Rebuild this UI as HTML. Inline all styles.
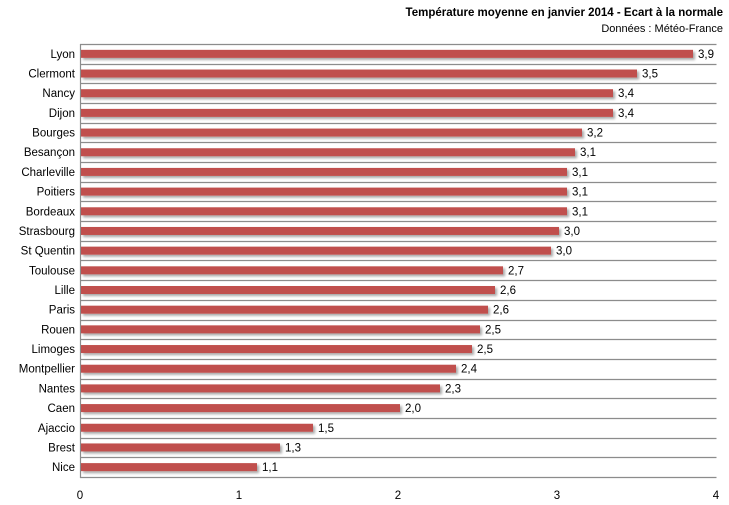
<!DOCTYPE html>
<html><head><meta charset="utf-8"><style>
body{margin:0;background:#fff}
svg{display:block;font-family:"Liberation Sans","DejaVu Sans",sans-serif}
</style></head><body>
<svg width="729" height="505" xmlns="http://www.w3.org/2000/svg">
<defs><filter id="sh" x="-5%" y="-50%" width="110%" height="250%"><feDropShadow dx="2" dy="2" stdDeviation="1.2" flood-color="#000" flood-opacity="0.35"/></filter></defs>
<text x="723" y="16" text-anchor="end" font-size="11.5" font-weight="bold" fill="#000">Température moyenne en janvier 2014 - Ecart à la normale</text>
<text x="723" y="32" text-anchor="end" font-size="11" fill="#000">Données : Météo-France</text>
<g id="grid" stroke="#8c8c8c" stroke-width="1.2"></g>
<g id="bars"></g>
<g font-size="11.5" fill="#000" text-anchor="middle">
<text x="80" y="499">0</text><text x="239" y="499">1</text><text x="398" y="499">2</text><text x="557" y="499">3</text><text x="716" y="499">4</text>
</g>
<script>
(function(){
var d=[["Lyon",693,"3,9"],["Clermont",637,"3,5"],["Nancy",613,"3,4"],["Dijon",613,"3,4"],["Bourges",582,"3,2"],["Besançon",575,"3,1"],["Charleville",567,"3,1"],["Poitiers",567,"3,1"],["Bordeaux",567,"3,1"],["Strasbourg",559,"3,0"],["St Quentin",551,"3,0"],["Toulouse",503,"2,7"],["Lille",495,"2,6"],["Paris",488,"2,6"],["Rouen",480,"2,5"],["Limoges",472,"2,5"],["Montpellier",456,"2,4"],["Nantes",440,"2,3"],["Caen",400,"2,0"],["Ajaccio",313,"1,5"],["Brest",280,"1,3"],["Nice",257,"1,1"]];
var ns="http://www.w3.org/2000/svg",g=document.getElementById("grid"),b=document.getElementById("bars");
function el(t,a,p,txt){var e=document.createElementNS(ns,t);for(var k in a)e.setAttribute(k,a[k]);if(txt)e.textContent=txt;p.appendChild(e);return e;}
var y0=44,step=19.68;
for(var i=0;i<=22;i++){var y=Math.round(y0+i*step)+0.5;el("line",{x1:80,x2:716.5,y1:y,y2:y},g);}
el("line",{x1:80.5,x2:80.5,y1:44,y2:478},g);
d.forEach(function(r,i){var c=y0+step/2+i*step;
el("rect",{x:81,y:c-4,width:r[1]-81,height:8,fill:"#c0504d",filter:"url(#sh)"},b);
el("text",{x:75,y:c+4,"text-anchor":"end","font-size":"11.5",fill:"#000"},b,r[0]);
el("text",{x:r[1]+5,y:c+4,"font-size":"11.5",fill:"#000"},b,r[2]);});
})();
</script>
</svg>
</body></html>
